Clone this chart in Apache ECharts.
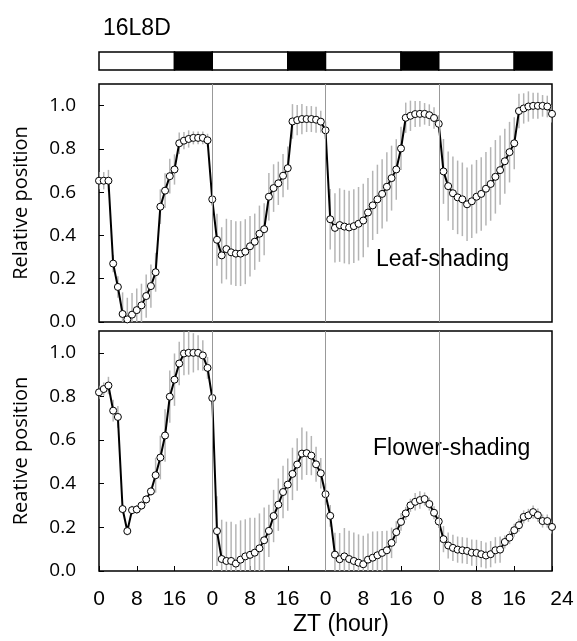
<!DOCTYPE html>
<html><head><meta charset="utf-8">
<script src="https://cdn.jsdelivr.net/npm/echarts@6/dist/echarts.min.js"></script>
<style>html,body{margin:0;padding:0;background:#fff}#c{width:577px;height:641px}</style>
</head><body><div id="c"></div>
<script>
// hours 0..96
const hours = Array.from({length: 97}, (_, i) => i);
const leafMean = [0.653,0.653,0.653,0.27,0.162,0.037,0.012,0.034,0.055,0.077,0.12,0.166,0.23,0.533,0.607,0.674,0.705,0.826,0.838,0.846,0.851,0.851,0.851,0.84,
0.567,0.38,0.308,0.337,0.322,0.316,0.316,0.325,0.35,0.371,0.408,0.429,0.579,0.619,0.641,0.676,0.711,0.927,0.933,0.938,0.938,0.938,0.935,0.926,
0.886,0.475,0.435,0.448,0.441,0.437,0.443,0.454,0.469,0.506,0.539,0.567,0.592,0.625,0.665,0.705,0.802,0.944,0.953,0.961,0.962,0.962,0.956,0.943,
0.916,0.696,0.628,0.595,0.576,0.567,0.544,0.558,0.579,0.592,0.616,0.638,0.671,0.702,0.743,0.785,0.826,0.975,0.987,0.996,0.999,0.999,0.999,0.996,0.962];
const leafErr = [0.04,0.04,0.05,0.04,0.05,
0.1,0.1,0.1,0.1,0.1,0.1,0.1,0.09,
0.08,0.08,0.08,0.07,
0.05,0.04,0.04,0.03,0.03,0.03,0.03,
0.03,
0.12,0.13,0.14,0.15,0.15,0.15,0.15,0.14,0.13,0.13,0.12,
0.11,0.11,0.1,0.1,0.1,
0.08,0.07,0.07,0.06,0.06,0.06,0.05,
0.04,
0.14,0.16,0.17,0.17,0.17,0.17,0.17,0.17,0.16,0.16,0.16,0.16,0.16,0.15,0.14,
0.1,
0.07,0.07,0.06,0.06,0.05,0.05,0.05,
0.04,
0.15,0.16,0.17,0.17,0.17,0.17,0.17,0.17,0.17,0.17,0.17,0.17,0.16,0.15,0.14,0.12,
0.08,0.07,0.07,0.06,0.06,0.05,0.05,0.04];
const flowerMean = [0.819,0.834,0.85,0.735,0.706,0.284,0.183,0.279,0.282,0.3,0.328,0.365,0.439,0.52,0.621,0.799,0.877,0.951,0.997,1.0,1.0,1.0,0.988,0.931,
0.793,0.183,0.055,0.046,0.046,0.034,0.052,0.067,0.074,0.084,0.104,0.141,0.184,0.252,0.304,0.362,0.396,0.445,0.488,0.538,0.54,0.529,0.489,0.448,
0.352,0.253,0.075,0.054,0.067,0.055,0.046,0.038,0.031,0.052,0.061,0.072,0.083,0.095,0.129,0.178,0.225,0.264,0.301,0.317,0.325,0.33,0.307,0.267,
0.227,0.146,0.117,0.106,0.098,0.095,0.092,0.084,0.083,0.077,0.071,0.077,0.095,0.098,0.133,0.153,0.187,0.21,0.248,0.255,0.27,0.256,0.229,0.229,0.202];
const flowerErr = [0.03,0.03,0.04,0.05,0.05,
0.02,0.02,0.02,0.02,0.02,0.02,0.02,
0.08,0.1,0.12,0.12,0.12,
0.1,0.1,0.1,0.09,0.08,0.07,0.05,
0.03,
0.16,0.18,0.18,0.18,0.18,0.18,0.17,0.17,0.16,0.16,0.15,
0.12,0.12,0.12,0.12,0.12,0.12,0.12,0.12,0.1,0.09,0.08,0.07,
0.05,0.05,
0.1,0.12,0.13,0.13,0.13,0.13,0.13,
0.12,0.12,0.11,0.1,0.09,0.07,0.05,
0.04,0.03,0.03,0.04,0.04,0.03,0.03,0.03,0.03,
0.06,0.06,0.06,0.06,0.06,0.06,0.06,0.06,0.06,0.06,0.06,0.06,0.06,
0.03,0.03,0.03,0.03,0.03,0.03,0.03,0.03,0.03,0.03,0.03];
// light/dark schedule: [start, end, isDark]
const phases = [[0,16,0],[16,24,1],[24,40,0],[40,48,1],[48,64,0],[64,72,1],[72,88,0],[88,96,1]];
const dayLines = [24, 48, 72];

const chart = echarts.init(document.getElementById('c'), null, {renderer: 'canvas'});
const FONT = 'Liberation Sans, Arial, sans-serif';
const YFONT = 'Open Sans, sans-serif';
const L = 99, R = 25;

function xAx(idx, showLabels) {
  return {
    type: 'value', gridIndex: idx, min: 0, max: 96, interval: 8,
    axisLine: {show: false},
    axisTick: {show: idx === 2, inside: true, length: 5, lineStyle: {color: '#000', width: 1}},
    axisLabel: {show: showLabels, fontFamily: FONT, fontSize: 21, color: '#000', margin: 18,
      formatter: v => v === 96 ? '{r|24}' : String(v % 24),
      rich: {r: {fontFamily: FONT, fontSize: 21, color: '#000', padding: [0, 0, 0, 20]}}},
    splitLine: {show: false}
  };
}
function yAx(idx, name) {
  return {
    type: 'value', gridIndex: idx, min: 0, max: 1.1, interval: 0.2,
    axisLine: {show: false},
    axisTick: {show: true, inside: true, length: 5, lineStyle: {color: '#000'}},
    axisLabel: {fontFamily: YFONT, fontSize: 19, color: '#000', margin: 23, showMaxLabel: false,
      formatter: v => v > 1.05 ? '' : v.toFixed(1)},
    splitLine: {show: false},
    name: name, nameLocation: 'middle', nameGap: 68, nameRotate: 90,
    nameTextStyle: {fontFamily: YFONT, fontSize: 20, color: '#000'}
  };
}
function errSeries(idx, mean, err) {
  const data = hours.map((h, i) => [h, mean[i] - err[i], mean[i] + err[i]]);
  return {
    type: 'custom', xAxisIndex: idx, yAxisIndex: idx, data: data, z: 1, clip: true,
    renderItem: (params, api) => {
      const p1 = api.coord([api.value(0), api.value(1)]);
      const p2 = api.coord([api.value(0), api.value(2)]);
      return {type: 'line', shape: {x1: p1[0], y1: p1[1], x2: p2[0], y2: p2[1]},
        style: {stroke: '#b5b5b5', lineWidth: 1.5}};
    }
  };
}
function lineSeries(idx, mean) {
  return {
    type: 'line', xAxisIndex: idx, yAxisIndex: idx, z: 3,
    data: hours.map((h, i) => [h, mean[i]]),
    symbol: 'circle', symbolSize: 7, showAllSymbol: true,
    lineStyle: {color: '#000', width: 2},
    itemStyle: {color: '#fff', borderColor: '#000', borderWidth: 1},
    markLine: {silent: true, symbol: 'none', label: {show: false},
      lineStyle: {color: '#999', width: 1, type: 'solid'},
      data: dayLines.map(d => ({xAxis: d}))},
    animation: false
  };
}

const option = {
  animation: false,
  backgroundColor: '#fff',
  title: {text: '16L8D', left: 98, top: 12, textStyle: {fontFamily: FONT, fontSize: 23, fontWeight: 'normal', color: '#000'}},
  grid: [
    {left: L, right: R, top: 84, height: 238, show: true, borderColor: '#000', borderWidth: 1.5},
    {left: L, right: R, top: 52, height: 18, show: false},
    {left: L, right: R, top: 331, height: 240, show: true, borderColor: '#000', borderWidth: 1.5}
  ],
  xAxis: [xAx(0, false), {type: 'value', gridIndex: 1, min: 0, max: 96, show: false}, xAx(2, true)],
  yAxis: [yAx(0, 'Relative position'), {type: 'value', gridIndex: 1, min: 0, max: 1, show: false}, yAx(2, 'Reative position')],
  series: [
    errSeries(0, leafMean, leafErr),
    lineSeries(0, leafMean),
    errSeries(2, flowerMean, flowerErr),
    lineSeries(2, flowerMean),
    {
      type: 'custom', xAxisIndex: 1, yAxisIndex: 1, data: phases,
      renderItem: (params, api) => {
        const a = api.coord([api.value(0), 1]);
        const b = api.coord([api.value(1), 0]);
        return {type: 'rect', shape: {x: a[0], y: a[1], width: b[0] - a[0], height: b[1] - a[1]},
          style: {fill: api.value(2) ? '#000' : '#fff', stroke: '#000', lineWidth: 1.5}};
      }
    }
  ],
  graphic: [
    {type: 'text', left: 376, top: 248, style: {text: 'Leaf-shading', font: '23px ' + FONT, fill: '#000'}},
    {type: 'text', left: 373, top: 437, style: {text: 'Flower-shading', font: '23px ' + FONT, fill: '#000'}},
    {type: 'text', left: 293, top: 613, style: {text: 'ZT (hour)', font: '23px ' + FONT, fill: '#000'}}
  ]
};
chart.setOption(option);
</script></body></html>
